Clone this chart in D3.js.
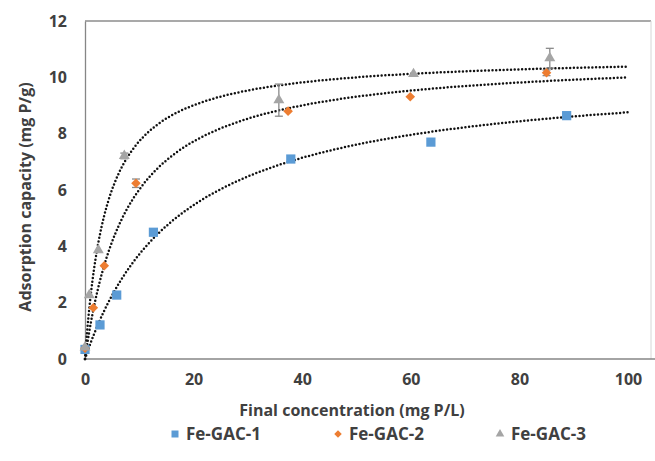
<!DOCTYPE html>
<html>
<head>
<meta charset="utf-8">
<script src="https://cdn.jsdelivr.net/npm/d3@7"></script>
<style>
  body { margin: 0; background: #fff; }
  text { font-family: "Open Sans", sans-serif; fill: #404040; }
</style>
</head>
<body>
<svg id="chart" width="655" height="461"></svg>
<script>
// series: final concentration (mg P/L) vs adsorption capacity (mg P/g)
var seriesNames = ["Fe-GAC-1", "Fe-GAC-2", "Fe-GAC-3"]
var seriesColors = ["#5B9BD5", "#ED7D31", "#A5A5A5"]

var gac1_x = [0, 2.76, 5.84, 12.6, 37.9, 63.7, 88.7]
var gac1_y = [0.34, 1.21, 2.27, 4.50, 7.10, 7.70, 8.64]
var gac1_err = [0.03, 0.04, 0.05, 0.05, 0.06, 0.06, 0.06]

var gac2_x = [0, 1.53, 3.55, 9.39, 37.4, 59.9, 85.0]
var gac2_y = [0.38, 1.82, 3.31, 6.24, 8.80, 9.31, 10.16]
var gac2_err = [0.03, 0.05, 0.05, 0.15, 0.06, 0.06, 0.10]

var gac3_x = [0, 0.79, 2.45, 7.24, 35.7, 60.5, 85.6]
var gac3_y = [0.41, 2.27, 3.87, 7.21, 9.19, 10.12, 10.68]
var gac3_err = [0.04, 0.06, 0.07, 0.10, 0.57, 0.08, 0.35]

// Langmuir trendline parameters (qmax, K) estimated from the dotted curves
var fitQmax = [10.31, 10.79, 10.79]
var fitK = [0.0564, 0.126, 0.253]

var xTicks = [0, 20, 40, 60, 80, 100]
var yTicks = [0, 2, 4, 6, 8, 10, 12]

var svg = d3.select("#chart")

var plotLeft = 85, plotTop = 21, plotBottom = 359, axisRight = 628, frameRight = 651

var x = d3.scaleLinear().domain([0, 100]).range([plotLeft, axisRight])
var y = d3.scaleLinear().domain([0, 12]).range([plotBottom, plotTop])

// plot frame
svg.append("line").attr("x1", plotLeft).attr("x2", frameRight).attr("y1", plotTop).attr("y2", plotTop)
    .attr("stroke", "#8c8c8c").attr("stroke-width", 1.3)
svg.append("line").attr("x1", frameRight).attr("x2", frameRight).attr("y1", plotTop).attr("y2", plotBottom)
    .attr("stroke", "#d6d6d6").attr("stroke-width", 1)

// axes, no tick marks
var xAxis = svg.append("g").attr("transform", "translate(0," + plotBottom + ")")
    .call(d3.axisBottom(x).tickValues(xTicks).tickSize(0).tickPadding(15))
xAxis.select(".domain").attr("stroke", "#868686").attr("stroke-width", 1.3)
    .attr("d", "M" + plotLeft + ",0H" + (frameRight + 4))

var yAxis = svg.append("g").attr("transform", "translate(" + plotLeft + ",0)")
    .call(d3.axisLeft(y).tickValues(yTicks).tickSize(0).tickPadding(18))
yAxis.select(".domain").attr("stroke", "#868686").attr("stroke-width", 1.3)

svg.selectAll(".tick text")
    .style("font-family", "'Open Sans', sans-serif")
    .style("font-size", "16px")
    .style("font-weight", "bold")
    .attr("fill", "#404040")

// axis titles
svg.append("text")
    .attr("x", 352).attr("y", 416)
    .attr("text-anchor", "middle")
    .style("font-size", "16px").style("font-weight", "bold")
    .text("Final concentration (mg P/L)")

svg.append("text")
    .attr("transform", "translate(31,197) rotate(-90)")
    .attr("text-anchor", "middle")
    .style("font-size", "16px").style("font-weight", "bold")
    .text("Adsorption capacity (mg P/g)")

// build series
var allSeries = [
    { name: seriesNames[0], xs: gac1_x, ys: gac1_y, err: gac1_err },
    { name: seriesNames[1], xs: gac2_x, ys: gac2_y, err: gac2_err },
    { name: seriesNames[2], xs: gac3_x, ys: gac3_y, err: gac3_err }
]

var symbolFor = [
    d3.symbol().type(d3.symbolSquare).size(85),
    d3.symbol().type(d3.symbolSquare).size(46),
    d3.symbol().type(d3.symbolTriangle).size(52)
]

// trendlines
var line = d3.line()
    .x(function (d) { return x(d[0]) })
    .y(function (d) { return y(d[1]) })

var cSamples = d3.range(0, 2, 0.02).concat(d3.range(2, 100.01, 0.5))

allSeries.forEach(function (s, i) {
    var pts = cSamples.map(function (c) {
        return [c, fitQmax[i] * fitK[i] * c / (1 + fitK[i] * c)]
    })
    svg.append("path")
        .attr("fill", "none")
        .attr("stroke", "#111")
        .attr("stroke-width", 2.5)
        .attr("stroke-linecap", "round")
        .attr("stroke-dasharray", "0 3.7")
        .attr("d", line(pts))
})

// error bars
allSeries.forEach(function (s, i) {
    var g = svg.append("g")
    s.xs.forEach(function (xv, j) {
        var e = s.err[j]
        if (e < 0.1) return
        var cx = x(xv), y1 = y(s.ys[j] + e), y2 = y(s.ys[j] - e)
        g.append("line").attr("x1", cx).attr("x2", cx).attr("y1", y1).attr("y2", y2)
        g.append("line").attr("x1", cx - 4).attr("x2", cx + 4).attr("y1", y1).attr("y2", y1)
        g.append("line").attr("x1", cx - 4).attr("x2", cx + 4).attr("y1", y2).attr("y2", y2)
    })
    g.selectAll("line").attr("stroke", "#8a8a8a").attr("stroke-width", 1.3)
})

// markers
allSeries.forEach(function (s, i) {
    svg.append("g").selectAll("path")
        .data(s.xs.map(function (xv, j) { return [xv, s.ys[j]] }))
        .join("path")
        .attr("d", symbolFor[i])
        .attr("transform", function (d) {
            return "translate(" + x(d[0]) + "," + y(d[1]) + ")" + (i === 1 ? " rotate(45)" : "")
        })
        .attr("fill", seriesColors[i])
})

// legend
var legendX = [175, 338, 500]
var legendSym = [
    d3.symbol().type(d3.symbolSquare).size(49),
    d3.symbol().type(d3.symbolSquare).size(28),
    d3.symbol().type(d3.symbolTriangle).size(32)
]
seriesNames.forEach(function (name, i) {
    svg.append("path")
        .attr("d", legendSym[i])
        .attr("transform", "translate(" + legendX[i] + ",434)" + (i === 1 ? " rotate(45)" : ""))
        .attr("fill", seriesColors[i])
    svg.append("text")
        .attr("x", legendX[i] + 11).attr("y", 440)
        .style("font-size", "17px").style("font-weight", "bold")
        .text(name)
})
</script>
</body>
</html>
